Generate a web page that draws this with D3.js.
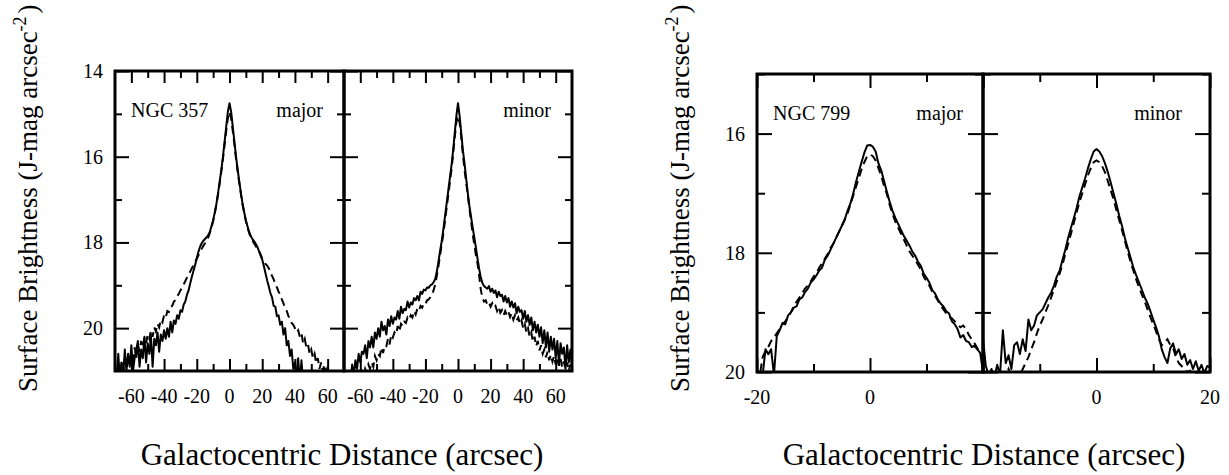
<!doctype html>
<html>
<head>
<script src="https://cdn.jsdelivr.net/npm/d3@7/dist/d3.min.js"></script>
<style type="text/css">
  body { margin: 0; background: #fff; }
  svg { font-family: "Liberation Serif", "Times New Roman", serif; }
  path.solid { fill: none; stroke: #000; stroke-width: 2; stroke-linejoin: round; }
  path.dashed { fill: none; stroke: #000; stroke-width: 2; stroke-dasharray: 8,5; }
  rect.frame { fill: none; stroke: #000; stroke-width: 3; }
  .ticks line { stroke: #000; stroke-width: 2; }
  text.lab { font-size: 20px; fill: #000; }
  text.title { font-size: 31px; fill: #000; }
  text.ytitle { font-size: 27px; fill: #000; }
</style>
</head>
<body>
<svg width="1229" height="475"></svg>

<script type="text/javascript">

// NGC 357, sampled every arcsec from -70 to 70
var n357Offsets = d3.range(-70, 71);
var n357MajorSolid = [
  21.3, 21.1, 20.6, 21.2, 20.8, 21.1, 20.5, 21.0, 20.6, 20.9,
  20.4, 21.0, 20.7, 20.5, 20.3, 20.9, 20.5, 20.7, 20.2, 20.8,
  20.35, 20.6, 20.2, 20.9, 20.25, 20.4, 20.1, 20.55, 20.15, 20.3,
  20.05, 20.25, 20.0, 20.2, 19.85, 20.1, 19.82, 19.9, 19.7, 19.78,
  19.58, 19.62, 19.45, 19.38, 19.22, 19.12, 18.95, 18.8, 18.66, 18.52,
  18.37, 18.22, 18.1, 18.02, 17.96, 17.92, 17.88, 17.83, 17.75, 17.62,
  17.48, 17.3, 17.1, 16.85, 16.58, 16.3, 16.0, 15.65, 15.3, 14.95,
  14.75, 14.95, 15.3, 15.65, 16.0, 16.3, 16.58, 16.85, 17.1, 17.3,
  17.48, 17.62, 17.75, 17.85, 17.92, 17.97, 18.03, 18.1, 18.2, 18.3,
  18.4, 18.55, 18.72, 18.88, 19.02, 19.18, 19.28, 19.48, 19.5, 19.72,
  19.7, 19.92, 19.85, 20.15, 20.0, 20.4, 20.3, 20.65, 20.5, 20.95,
  20.8, 21.2, 20.7, 21.3, 20.75, 21.3, 21.4, 21.4, 21.4, 21.4,
  21.4, 21.4, 21.4, 21.4, 21.4, 21.4, 21.4, 21.4, 21.4, 21.4,
  21.4, 21.4, 21.4, 21.4, 21.4, 21.4, 21.4, 21.4, 21.4, 21.4,
  21.4
];
var n357MajorDashed = [
  21.1, 21.3, 20.9, 21.2, 20.8, 21.05, 20.75, 20.95, 20.65, 20.85,
  20.55, 20.75, 20.45, 20.7, 20.4, 20.55, 20.3, 20.45, 20.22, 20.35,
  20.15, 20.25, 20.05, 20.2, 19.98, 20.08, 19.9, 19.98, 19.8, 19.86,
  19.7, 19.76, 19.6, 19.62, 19.5, 19.48, 19.38, 19.35, 19.26, 19.2,
  19.12, 19.05, 18.98, 18.9, 18.82, 18.75, 18.68, 18.6, 18.53, 18.45,
  18.38, 18.3, 18.22, 18.15, 18.08, 18.02, 17.95, 17.88, 17.78, 17.65,
  17.5, 17.32, 17.12, 16.88, 16.62, 16.35, 16.05, 15.72, 15.4, 15.1,
  14.95, 15.1, 15.4, 15.72, 16.05, 16.35, 16.62, 16.88, 17.12, 17.32,
  17.5, 17.65, 17.78, 17.88, 17.95, 18.02, 18.08, 18.14, 18.2, 18.28,
  18.38, 18.42, 18.5, 18.54, 18.6, 18.68, 18.78, 18.86, 18.97, 19.05,
  19.15, 19.22, 19.33, 19.42, 19.55, 19.6, 19.72, 19.78, 19.88, 19.92,
  20.0, 20.1, 20.05, 20.2, 20.12, 20.35, 20.25, 20.45, 20.38, 20.6,
  20.5, 20.7, 20.6, 20.82, 20.7, 20.95, 20.8, 21.0, 20.85, 21.1,
  20.9, 21.2, 21.0, 21.3, 21.3, 21.3, 21.3, 21.3, 21.3, 21.3,
  21.3
];
var n357MinorSolid = [
  21.3, 21.15, 21.3, 21.0, 21.2, 20.85, 21.1, 20.75, 20.95, 20.6,
  20.8, 20.55, 20.6, 20.4, 20.7, 20.3, 20.45, 20.2, 20.45, 20.1,
  20.25, 20.0, 20.2, 19.85, 20.05, 19.95, 20.15, 19.8, 19.95, 19.72,
  19.9, 19.75, 19.8, 19.6, 19.78, 19.5, 19.65, 19.55, 19.58, 19.38,
  19.52, 19.4, 19.45, 19.3, 19.35, 19.25, 19.35, 19.15, 19.2, 19.1,
  19.12, 19.05, 19.06, 19.0, 18.98, 18.93, 18.85, 18.68, 18.45, 18.2,
  17.97, 17.7, 17.4, 17.1, 16.8, 16.5, 16.2, 15.85, 15.45, 15.05,
  14.75, 15.05, 15.45, 15.85, 16.15, 16.5, 16.85, 17.15, 17.4, 17.65,
  17.88, 18.12, 18.38, 18.62, 18.82, 18.95, 19.02, 19.05, 19.08, 19.02,
  19.15, 19.08, 19.18, 19.12, 19.28, 19.15, 19.25, 19.22, 19.38, 19.25,
  19.4, 19.3, 19.5, 19.38, 19.52, 19.42, 19.65, 19.5, 19.62, 19.58,
  19.78, 19.6, 19.85, 19.7, 19.92, 19.75, 20.05, 19.85, 20.1, 19.92,
  20.2, 19.98, 20.35, 20.05, 20.45, 20.1, 20.55, 20.2, 20.5, 20.25,
  20.7, 20.3, 20.85, 20.35, 20.6, 20.45, 20.95, 20.4, 20.8, 20.5,
  20.9
];
var n357MinorDashed = [
  21.4, 21.3, 21.4, 21.2, 21.35, 21.25, 21.3, 21.1, 21.25, 21.15,
  21.2, 21.0, 21.15, 20.95, 21.05, 20.85, 20.95, 20.8, 20.9, 20.65,
  20.75, 20.6, 20.65, 20.45, 20.58, 20.4, 20.42, 20.25, 20.38, 20.15,
  20.22, 20.1, 20.15, 19.95, 20.08, 19.9, 19.95, 19.85, 19.88, 19.75,
  19.8, 19.7, 19.75, 19.6, 19.68, 19.55, 19.6, 19.48, 19.52, 19.42,
  19.44, 19.35, 19.33, 19.28, 19.22, 19.12, 18.98, 18.78, 18.55, 18.3,
  18.05, 17.8, 17.5, 17.2, 16.9, 16.6, 16.3, 15.95, 15.55, 15.2,
  15.05, 15.2, 15.55, 15.95, 16.3, 16.6, 16.9, 17.2, 17.5, 17.8,
  18.05, 18.3, 18.5, 18.78, 19.1, 19.3, 19.38, 19.35, 19.45, 19.4,
  19.5, 19.42, 19.52, 19.48, 19.6, 19.5, 19.64, 19.58, 19.7, 19.6,
  19.7, 19.62, 19.74, 19.65, 19.8, 19.7, 19.82, 19.75, 19.9, 19.82,
  20.0, 19.9, 20.1, 20.0, 20.2, 20.1, 20.32, 20.2, 20.42, 20.3,
  20.52, 20.4, 20.6, 20.5, 20.68, 20.55, 20.75, 20.62, 20.78, 20.65,
  20.85, 20.7, 20.88, 20.72, 20.92, 20.78, 20.95, 20.8, 21.0, 20.85,
  21.0
];

// NGC 799, sampled every half arcsec from -20 to 20
var n799Offsets = d3.range(-20, 20.25, 0.5);
var n799MajorSolid = [
  20.3, 20.3, 20.05, 19.62, 19.7, 19.62, 20.05, 19.4, 19.3, 19.18,
  19.2, 19.05, 19.0, 18.92, 18.9, 18.78, 18.75, 18.66, 18.6, 18.5,
  18.45, 18.38, 18.3, 18.25, 18.12, 18.05, 17.95, 17.85, 17.75, 17.65,
  17.55, 17.45, 17.3, 17.18, 17.02, 16.82, 16.65, 16.48, 16.32, 16.2,
  16.19, 16.22, 16.3, 16.5, 16.62, 16.8, 16.98, 17.15, 17.3, 17.42,
  17.52, 17.62, 17.72, 17.8, 17.88, 17.98, 18.05, 18.15, 18.22, 18.35,
  18.42, 18.5, 18.62, 18.68, 18.78, 18.85, 18.9, 18.98, 19.02, 19.15,
  19.2, 19.28, 19.42, 19.38, 19.48, 19.5, 19.58, 19.56, 19.62, 19.68,
  20.0
];
var n799MajorDashed = [
  20.2, 20.05, 19.75, 19.65, 19.58, 19.48, 19.42, 19.35, 19.28, 19.2,
  19.15, 19.08, 19.0, 18.9, 18.82, 18.75, 18.68, 18.6, 18.55, 18.48,
  18.4, 18.35, 18.25, 18.18, 18.1, 18.02, 17.92, 17.85, 17.75, 17.65,
  17.55, 17.45, 17.35, 17.2, 17.05, 16.9, 16.75, 16.6, 16.48, 16.38,
  16.35, 16.38, 16.45, 16.58, 16.72, 16.88, 17.02, 17.2, 17.35, 17.48,
  17.58, 17.68, 17.78, 17.88, 17.98, 18.05, 18.12, 18.2, 18.28, 18.4,
  18.48, 18.55, 18.65, 18.72, 18.8, 18.88, 18.95, 19.02, 19.08, 19.1,
  19.15, 19.2, 19.25, 19.22, 19.28, 19.38, 19.45, 19.52, 19.6, 19.68,
  19.75
];
var n799MinorSolid = [
  19.45, 19.9, 20.05, 19.95, 20.1, 19.88, 20.05, 19.3, 19.85, 19.72,
  19.95, 19.55, 19.5, 19.7, 19.45, 19.65, 19.12, 19.3, 19.22, 19.05,
  19.0, 18.95, 18.85, 18.75, 18.67, 18.55, 18.4, 18.3, 18.12, 17.95,
  17.75, 17.58, 17.42, 17.25, 17.05, 16.9, 16.75, 16.58, 16.43, 16.3,
  16.26, 16.3, 16.38, 16.5, 16.65, 16.82, 17.0, 17.18, 17.38, 17.55,
  17.75, 17.92, 18.08, 18.25, 18.38, 18.5, 18.62, 18.75, 18.85, 18.98,
  19.12, 19.25, 19.4, 19.62, 19.75, 19.85, 19.6, 19.52, 19.7, 19.62,
  19.78, 19.7, 19.88, 19.8, 19.95, 19.82, 19.98, 19.88, 20.02, 19.9,
  19.92
];
var n799MinorDashed = [
  20.3, 20.2, 20.3, 20.2, 20.3, 20.1, 20.25, 20.0, 20.1, 19.95,
  20.05, 20.0, 20.1, 20.05, 19.95, 19.85, 19.75, 19.62, 19.5, 19.35,
  19.22, 19.12, 19.0, 18.88, 18.75, 18.62, 18.48, 18.35, 18.2, 18.02,
  17.85, 17.68, 17.5, 17.32, 17.15, 17.0, 16.85, 16.7, 16.58, 16.48,
  16.45, 16.48, 16.55, 16.65, 16.8, 16.95, 17.1, 17.28, 17.45, 17.62,
  17.8, 17.98, 18.15, 18.3, 18.45, 18.58, 18.7, 18.82, 18.95, 19.08,
  19.2, 19.32, 19.45, 19.55, 19.5, 19.45, 19.55, 19.6, 19.75, 19.85,
  19.9, 19.95, 20.0, 19.98, 20.05, 20.1, 20.05, 20.15, 20.1, 20.2,
  20.2
];

// ticks
var n357XMajor = [-60, -40, -20, 0, 20, 40, 60];
var n357XMinor = [-50, -30, -10, 10, 30, 50];
var n357YMajor = [14, 16, 18, 20];
var n357YMinor = [15, 17, 19];
var n799XMajor = [-20, 0, 20];
var n799XMinor = [-10, 10];
var n799YMajor = [16, 18, 20];
var n799YMinor = [15, 17, 19];
var n799LeftXLabels = [-20, 0];
var n799RightXLabels = [0, 20];

var svg = d3.select("svg");
var defs = svg.append("defs");
var clipCount = 0;

function drawPanel(p) {
        var x = d3.scaleLinear().domain(p.xDomain).range([p.left, p.right]);
        var y = d3.scaleLinear().domain(p.yDomain).range([p.top, p.bottom]);
        var g = svg.append("g");

        var id = "clip" + (clipCount++);
        defs.append("clipPath").attr("id", id)
            .append("rect")
            .attr("x", p.left).attr("y", p.top)
            .attr("width", p.right - p.left).attr("height", p.bottom - p.top);

        var line = d3.line()
                     .x(function(d, i) { return x(p.offsets[i]); })
                     .y(function(d) { return y(d); });

        g.append("path").attr("class", "solid").attr("clip-path", "url(#" + id + ")").attr("d", line(p.solid));
        g.append("path").attr("class", "dashed").attr("clip-path", "url(#" + id + ")").attr("d", line(p.dashed));

        //inward ticks on all four sides
        function ticks(axis, tr, values, len) {
                g.append("g")
                 .attr("class", "ticks")
                 .attr("transform", tr)
                 .call(axis.tickValues(values).tickSize(-len).tickFormat(""))
                 .call(function(s) { s.select(".domain").remove(); });
        }
        ticks(d3.axisBottom(x), "translate(0," + p.bottom + ")", p.xMajor, p.xMajorLen);
        ticks(d3.axisBottom(x), "translate(0," + p.bottom + ")", p.xMinor, p.xMinorLen);
        ticks(d3.axisTop(x), "translate(0," + p.top + ")", p.xMajor, p.xMajorLen);
        ticks(d3.axisTop(x), "translate(0," + p.top + ")", p.xMinor, p.xMinorLen);
        ticks(d3.axisLeft(y), "translate(" + p.left + ",0)", p.yMajor, p.yMajorLen);
        ticks(d3.axisLeft(y), "translate(" + p.left + ",0)", p.yMinor, p.yMinorLen);
        ticks(d3.axisRight(y), "translate(" + p.right + ",0)", p.yMajor, p.yMajorLen);
        ticks(d3.axisRight(y), "translate(" + p.right + ",0)", p.yMinor, p.yMinorLen);

        g.append("rect").attr("class", "frame")
         .attr("x", p.left).attr("y", p.top)
         .attr("width", p.right - p.left).attr("height", p.bottom - p.top);

        g.selectAll("text.xl").data(p.xLabels).enter()
         .append("text").attr("class", "lab")
         .attr("x", function(d) { return x(d); })
         .attr("y", p.bottom + 32)
         .attr("text-anchor", "middle")
         .text(function(d) { return d; });

        if (p.yLabels) {
                g.selectAll("text.yl").data(p.yLabels).enter()
                 .append("text").attr("class", "lab")
                 .attr("x", p.left - 12)
                 .attr("y", function(d) { return y(d) + 7; })
                 .attr("text-anchor", "end")
                 .text(function(d) { return d; });
        }
        if (p.name) {
                g.append("text").attr("class", "lab")
                 .attr("x", p.left + 16).attr("y", p.top + 46).text(p.name);
        }
        g.append("text").attr("class", "lab")
         .attr("x", p.right - p.cutInset).attr("y", p.top + 46)
         .attr("text-anchor", "end").text(p.cut);
}

// NGC 357
drawPanel({ left: 115, right: 344, top: 71, bottom: 371, xDomain: [-70, 70], yDomain: [14, 21],
            offsets: n357Offsets, solid: n357MajorSolid, dashed: n357MajorDashed,
            xMajor: n357XMajor, xMinor: n357XMinor, yMajor: n357YMajor, yMinor: n357YMinor,
            xMajorLen: 12, xMinorLen: 7, yMajorLen: 14, yMinorLen: 7,
            xLabels: n357XMajor, yLabels: n357YMajor, name: "NGC 357", cut: "major", cutInset: 21 });
drawPanel({ left: 344, right: 572, top: 71, bottom: 371, xDomain: [-70, 70], yDomain: [14, 21],
            offsets: n357Offsets, solid: n357MinorSolid, dashed: n357MinorDashed,
            xMajor: n357XMajor, xMinor: n357XMinor, yMajor: n357YMajor, yMinor: n357YMinor,
            xMajorLen: 12, xMinorLen: 7, yMajorLen: 14, yMinorLen: 7,
            xLabels: n357XMajor, cut: "minor", cutInset: 21 });

// NGC 799
drawPanel({ left: 757, right: 983, top: 74, bottom: 372, xDomain: [-20, 20], yDomain: [15, 20],
            offsets: n799Offsets, solid: n799MajorSolid, dashed: n799MajorDashed,
            xMajor: n799XMajor, xMinor: n799XMinor, yMajor: n799YMajor, yMinor: n799YMinor,
            xMajorLen: 14, xMinorLen: 8, yMajorLen: 15, yMinorLen: 8,
            xLabels: n799LeftXLabels, yLabels: n799YMajor, name: "NGC 799", cut: "major", cutInset: 20 });
drawPanel({ left: 983, right: 1210, top: 74, bottom: 372, xDomain: [-20, 20], yDomain: [15, 20],
            offsets: n799Offsets, solid: n799MinorSolid, dashed: n799MinorDashed,
            xMajor: n799XMajor, xMinor: n799XMinor, yMajor: n799YMajor, yMinor: n799YMinor,
            xMajorLen: 14, xMinorLen: 8, yMajorLen: 15, yMinorLen: 8,
            xLabels: n799RightXLabels, cut: "minor", cutInset: 28 });

// axis titles
[342, 984].forEach(function(cx) {
        svg.append("text").attr("class", "title")
           .attr("x", cx).attr("y", 465).attr("text-anchor", "middle")
           .text("Galactocentric Distance (arcsec)");
});
[37, 689].forEach(function(bx) {
        var t = svg.append("text").attr("class", "ytitle")
                   .attr("transform", "translate(" + bx + ",392) rotate(-90)");
        t.append("tspan").text("Surface Brightness (J-mag arcsec");
        t.append("tspan").attr("dy", -11).style("font-size", "18px").text("-2");
        t.append("tspan").attr("dy", 11).attr("dx", 3).text(")");
});

</script>
</body>
</html>
